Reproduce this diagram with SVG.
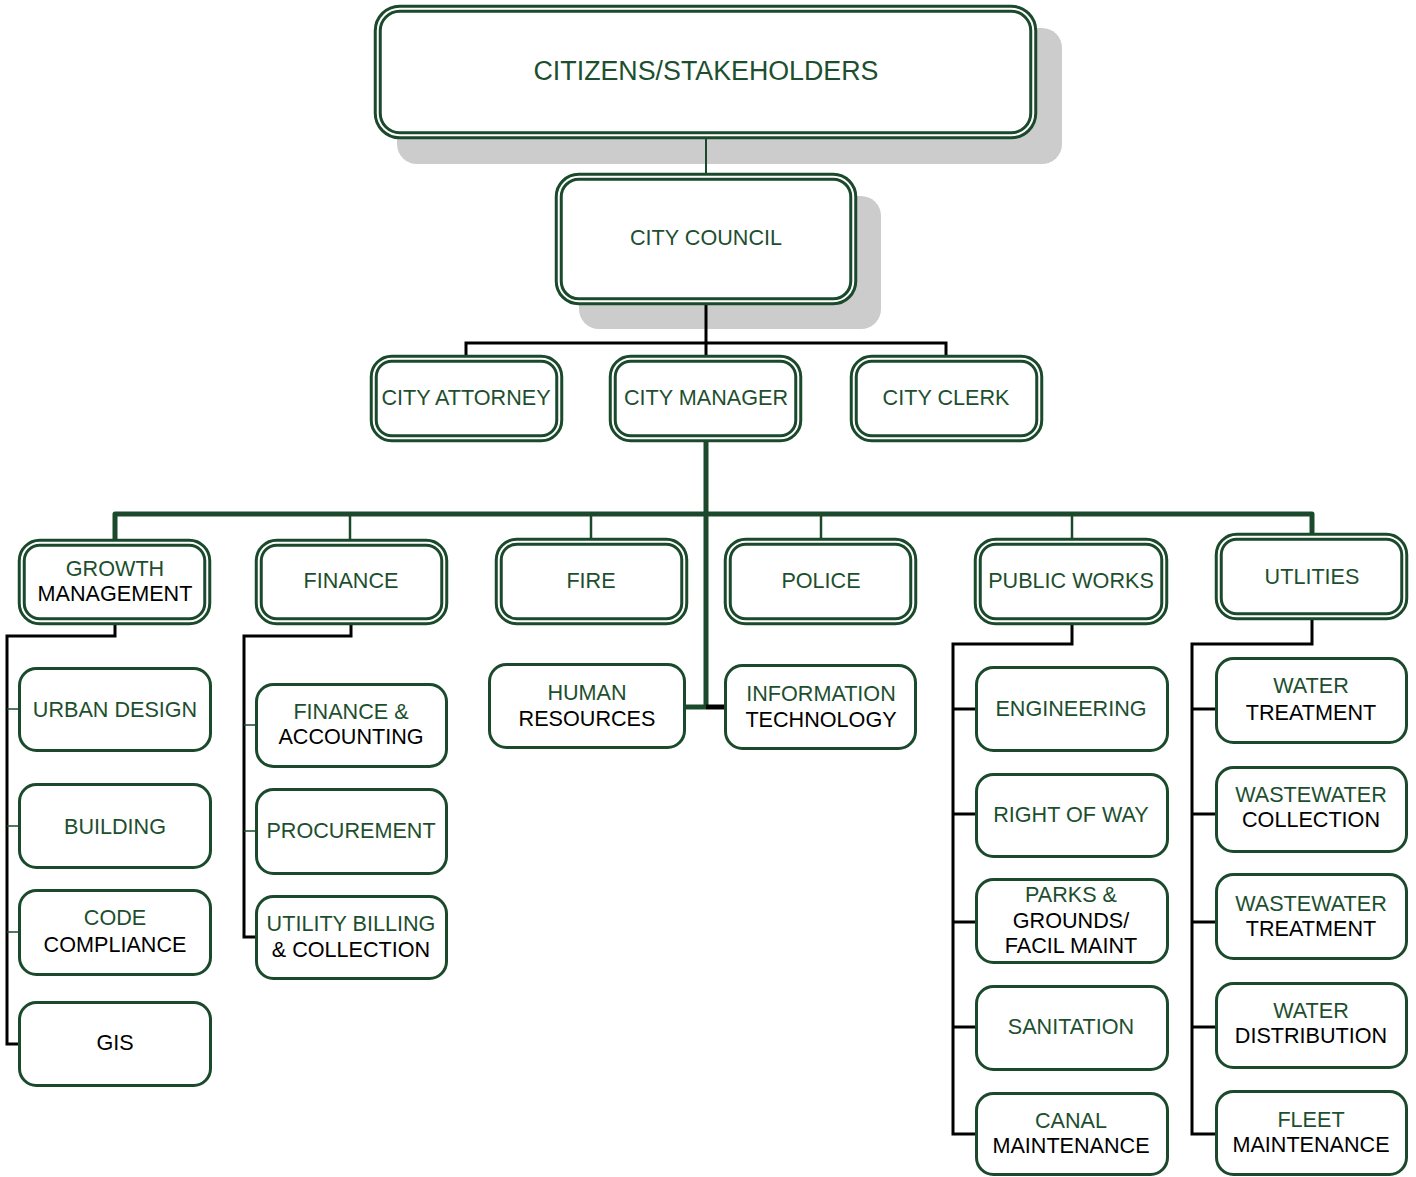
<svg xmlns="http://www.w3.org/2000/svg" width="1416" height="1177" viewBox="0 0 1416 1177">
<style>
text{font-family:"Liberation Sans",Arial,sans-serif;font-size:21.6px;text-anchor:middle;fill:#1d4f2f}
.k{fill:#000}
.shadow{fill:#cccccc}
.dbl{fill:#fff;stroke:#1a4a2b;stroke-width:8}
.dbl2{fill:none;stroke:#fff;stroke-width:2}
.sgl{fill:#fff;stroke:#1a4a2b;stroke-width:3}
.cg{fill:none;stroke:#1a4a2b}
.ck{fill:none;stroke:#000;stroke-width:3}
</style>
<rect width="1416" height="1177" fill="#fff"/>
<g id="shadows">
<rect class="shadow" x="397" y="28" width="665" height="136" rx="20"/>
<rect class="shadow" x="579" y="196" width="302" height="133" rx="20"/>
</g>
<g id="connectors">
<line class="cg" stroke-width="2" x1="706" y1="139" x2="706" y2="173"/>
<line class="ck" x1="706" y1="305" x2="706" y2="355"/>
<path class="ck" d="M466,355 V343 H946 V355"/>
<line class="cg" stroke-width="5" x1="706" y1="442" x2="706" y2="709"/>
<path class="cg" stroke-width="5" stroke-linejoin="round" d="M115,541 V514 H1312 V533"/>
<line class="cg" stroke-width="2.5" x1="350" y1="514" x2="350" y2="539"/>
<line class="cg" stroke-width="2.5" x1="591" y1="514" x2="591" y2="538"/>
<line class="cg" stroke-width="2.5" x1="821" y1="514" x2="821" y2="538"/>
<line class="cg" stroke-width="2.5" x1="1072" y1="514" x2="1072" y2="538"/>
<line class="cg" stroke-width="5" x1="684" y1="707" x2="706" y2="707"/>
<line stroke="#000" stroke-width="5" x1="706" y1="707" x2="727" y2="707"/>
<path class="ck" d="M115,625 V636 H7 V1044 H18"/>
<line class="cg" stroke-width="1.5" x1="7" y1="709" x2="18" y2="709"/>
<line class="cg" stroke-width="1.5" x1="7" y1="826" x2="18" y2="826"/>
<line class="cg" stroke-width="1.5" x1="7" y1="932" x2="18" y2="932"/>
<path class="ck" d="M351,625 V636 H244 V937 H255"/>
<line class="cg" stroke-width="1.5" x1="244" y1="725" x2="255" y2="725"/>
<line class="cg" stroke-width="1.5" x1="244" y1="831" x2="255" y2="831"/>
<path class="ck" d="M1072,625 V644 H953 V1134 H975"/>
<line class="ck" x1="953" y1="709" x2="975" y2="709"/>
<line class="ck" x1="953" y1="814" x2="975" y2="814"/>
<line class="ck" x1="953" y1="922" x2="975" y2="922"/>
<line class="ck" x1="953" y1="1027" x2="975" y2="1027"/>
<path class="ck" d="M1312,620 V644 H1192 V1134 H1215"/>
<line class="ck" x1="1192" y1="709" x2="1215" y2="709"/>
<line class="ck" x1="1192" y1="814" x2="1215" y2="814"/>
<line class="ck" x1="1192" y1="922" x2="1215" y2="922"/>
<line class="ck" x1="1192" y1="1027" x2="1215" y2="1027"/>
</g>
<g id="citizens"><rect class="dbl" x="377.75" y="8.75" width="655.5" height="126.5" rx="22"/><rect class="dbl2" x="377.75" y="8.75" width="655.5" height="126.5" rx="22"/><text x="706" y="80" style="font-size:26.8px">CITIZENS/STAKEHOLDERS</text></g>
<g id="council"><rect class="dbl" x="558.75" y="176.75" width="294.5" height="124.5" rx="20"/><rect class="dbl2" x="558.75" y="176.75" width="294.5" height="124.5" rx="20"/><text x="706" y="245">CITY COUNCIL</text></g>
<g id="attorney"><rect class="dbl" x="373.75" y="358.75" width="185.5" height="79.5" rx="18"/><rect class="dbl2" x="373.75" y="358.75" width="185.5" height="79.5" rx="18"/><text x="466" y="405">CITY ATTORNEY</text></g>
<g id="manager"><rect class="dbl" x="612.75" y="358.75" width="185.5" height="79.5" rx="18"/><rect class="dbl2" x="612.75" y="358.75" width="185.5" height="79.5" rx="18"/><text x="706" y="405">CITY MANAGER</text></g>
<g id="clerk"><rect class="dbl" x="853.75" y="358.75" width="185.5" height="79.5" rx="18"/><rect class="dbl2" x="853.75" y="358.75" width="185.5" height="79.5" rx="18"/><text x="946" y="405">CITY CLERK</text></g>
<g id="growth"><rect class="dbl" x="21.75" y="542.75" width="185.5" height="78.5" rx="18"/><rect class="dbl2" x="21.75" y="542.75" width="185.5" height="78.5" rx="18"/><text x="115" y="576">GROWTH</text><text class="k" x="115" y="601">MANAGEMENT</text></g>
<g id="finance"><rect class="dbl" x="258.75" y="542.75" width="185.5" height="78.5" rx="18"/><rect class="dbl2" x="258.75" y="542.75" width="185.5" height="78.5" rx="18"/><text x="351" y="588">FINANCE</text></g>
<g id="fire"><rect class="dbl" x="498.75" y="541.75" width="185.5" height="79.5" rx="18"/><rect class="dbl2" x="498.75" y="541.75" width="185.5" height="79.5" rx="18"/><text x="591" y="588">FIRE</text></g>
<g id="police"><rect class="dbl" x="727.75" y="541.75" width="185.5" height="79.5" rx="18"/><rect class="dbl2" x="727.75" y="541.75" width="185.5" height="79.5" rx="18"/><text x="821" y="588">POLICE</text></g>
<g id="publicworks"><rect class="dbl" x="977.75" y="541.75" width="186.5" height="79.5" rx="18"/><rect class="dbl2" x="977.75" y="541.75" width="186.5" height="79.5" rx="18"/><text x="1071" y="588">PUBLIC WORKS</text></g>
<g id="utilities"><rect class="dbl" x="1218.75" y="536.75" width="185.5" height="79.5" rx="18"/><rect class="dbl2" x="1218.75" y="536.75" width="185.5" height="79.5" rx="18"/><text x="1312" y="584">UTLITIES</text></g>
<g id="hr"><rect class="sgl" x="489.5" y="664.5" width="195" height="83" rx="17"/><text x="587" y="700">HUMAN</text><text class="k" x="587" y="726">RESOURCES</text></g>
<g id="it"><rect class="sgl" x="725.5" y="665.5" width="190" height="83" rx="17"/><text x="821" y="701">INFORMATION</text><text class="k" x="821" y="727">TECHNOLOGY</text></g>
<g id="urbandesign"><rect class="sgl" x="19.5" y="668.5" width="191" height="82" rx="17"/><text x="115" y="717">URBAN DESIGN</text></g>
<g id="building"><rect class="sgl" x="19.5" y="784.5" width="191" height="83" rx="17"/><text x="115" y="834">BUILDING</text></g>
<g id="codecompliance"><rect class="sgl" x="19.5" y="890.5" width="191" height="84" rx="17"/><text x="115" y="925">CODE</text><text class="k" x="115" y="952">COMPLIANCE</text></g>
<g id="gis"><rect class="sgl" x="19.5" y="1002.5" width="191" height="83" rx="17"/><text class="k" x="115" y="1050">GIS</text></g>
<g id="financeaccounting"><rect class="sgl" x="256.5" y="684.5" width="190" height="82" rx="17"/><text x="351" y="719">FINANCE &amp;</text><text class="k" x="351" y="744">ACCOUNTING</text></g>
<g id="procurement"><rect class="sgl" x="256.5" y="789.5" width="190" height="84" rx="17"/><text x="351" y="838">PROCUREMENT</text></g>
<g id="utilitybilling"><rect class="sgl" x="256.5" y="896.5" width="190" height="82" rx="17"/><text x="351" y="931">UTILITY BILLING</text><text class="k" x="351" y="957">&amp; COLLECTION</text></g>
<g id="engineering"><rect class="sgl" x="976.5" y="667.5" width="191" height="83" rx="17"/><text x="1071" y="716">ENGINEERING</text></g>
<g id="rightofway"><rect class="sgl" x="976.5" y="774.5" width="191" height="82" rx="17"/><text x="1071" y="822">RIGHT OF WAY</text></g>
<g id="parks"><rect class="sgl" x="976.5" y="879.5" width="191" height="83" rx="17"/><text x="1071" y="902">PARKS &amp;</text><text class="k" x="1071" y="928">GROUNDS/</text><text class="k" x="1071" y="953">FACIL MAINT</text></g>
<g id="sanitation"><rect class="sgl" x="976.5" y="986.5" width="191" height="83" rx="17"/><text x="1071" y="1034">SANITATION</text></g>
<g id="canal"><rect class="sgl" x="976.5" y="1093.5" width="191" height="81" rx="17"/><text x="1071" y="1128">CANAL</text><text class="k" x="1071" y="1153">MAINTENANCE</text></g>
<g id="watertreatment"><rect class="sgl" x="1216.5" y="658.5" width="190" height="84" rx="17"/><text x="1311" y="693">WATER</text><text class="k" x="1311" y="720">TREATMENT</text></g>
<g id="wwcollection"><rect class="sgl" x="1216.5" y="767.5" width="190" height="84" rx="17"/><text x="1311" y="802">WASTEWATER</text><text class="k" x="1311" y="827">COLLECTION</text></g>
<g id="wwtreatment"><rect class="sgl" x="1216.5" y="874.5" width="190" height="84" rx="17"/><text x="1311" y="911">WASTEWATER</text><text class="k" x="1311" y="936">TREATMENT</text></g>
<g id="waterdistribution"><rect class="sgl" x="1216.5" y="983.5" width="190" height="84" rx="17"/><text x="1311" y="1018">WATER</text><text class="k" x="1311" y="1043">DISTRIBUTION</text></g>
<g id="fleet"><rect class="sgl" x="1216.5" y="1091.5" width="190" height="83" rx="17"/><text x="1311" y="1127">FLEET</text><text class="k" x="1311" y="1152">MAINTENANCE</text></g>
</svg>
